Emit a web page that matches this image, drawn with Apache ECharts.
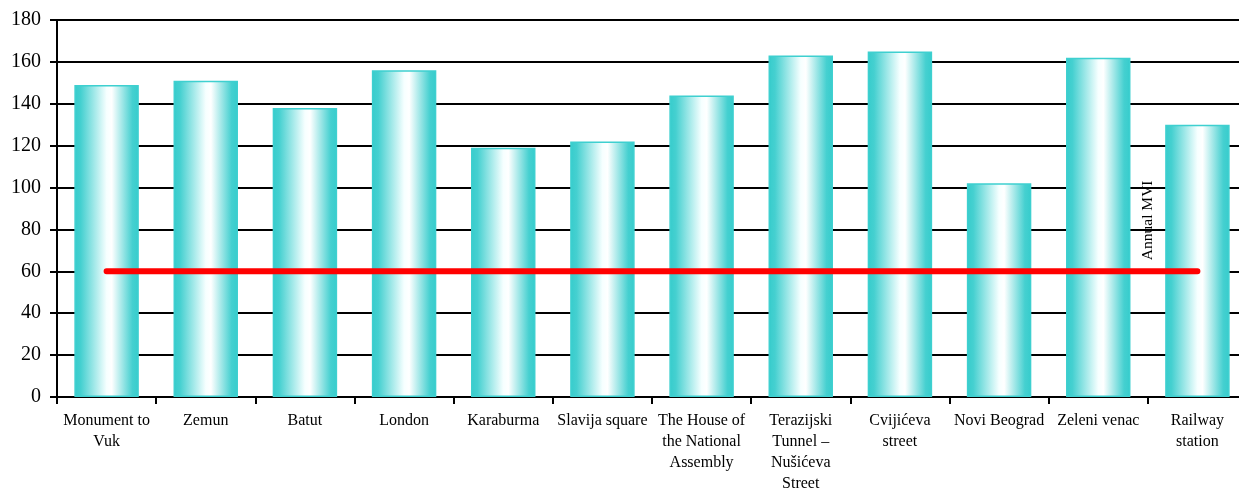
<!DOCTYPE html>
<html><head><meta charset="utf-8">
<script src="https://cdn.jsdelivr.net/npm/echarts@6/dist/echarts.min.js"></script>
<style>html,body{margin:0;padding:0;background:#fff}#c{width:1239px;height:490px}</style>
</head><body><div id="c"></div>
<script>
const categories = ["Monument to\nVuk","Zemun","Batut","London","Karaburma","Slavija square","The House of\nthe National\nAssembly","Terazijski\nTunnel –\nNušićeva\nStreet","Cvijićeva\nstreet","Novi Beograd","Zeleni venac","Railway\nstation"];
const values = [149,151,138,156,119,122,144,163,165,102,162,130];
const limitValues = [60,60,60,60,60,60,60,60,60,60,60,60];
const limitName = "Annual MVI";
const yTicks = [0,20,40,60,80,100,120,140,160,180];

const chart = echarts.init(document.getElementById('c'));
const font = "'Liberation Serif', 'DejaVu Serif', serif";
chart.setOption({
  animation:false,
  grid:{left:57,right:-8,top:20,bottom:93,containLabel:false,outerBoundsMode:'none'},
  xAxis:{type:'category',data:categories,
    axisLine:{lineStyle:{color:'#000',width:2}},
    axisTick:{show:true,length:7,lineStyle:{color:'#000',width:2},alignWithLabel:false},
    axisLabel:{interval:0,fontFamily:font,fontSize:16,color:'#000',lineHeight:21,margin:13}},
  yAxis:{type:'value',min:yTicks[0],max:yTicks[yTicks.length-1],interval:20,
    axisLine:{show:true,lineStyle:{color:'#000',width:2}},
    axisTick:{show:true,length:7,lineStyle:{color:'#000',width:2}},
    axisLabel:{fontFamily:font,fontSize:20,color:'#000',margin:16},
    splitLine:{lineStyle:{color:'#000',width:2}}},
  series:[
    {type:'bar',data:values,barWidth:'65%',
      itemStyle:{borderColor:'#3ED0D0',borderWidth:1.5,
        color:new echarts.graphic.LinearGradient(0,0,1,0,[
          {offset:0,color:'#36CCCC'},{offset:0.1,color:'#45D0D0'},{offset:0.5,color:'#F6FFFF'},{offset:0.58,color:'#FFFFFF'},{offset:0.9,color:'#45D0D0'},{offset:1,color:'#36CCCC'}])}},
    {type:'line',data:limitValues.map((v,i)=> i===limitValues.length-1 ? {value:v,label:{show:true,formatter:limitName,rotate:90,position:'inside',offset:[51,-49],fontFamily:font,fontSize:15.5,color:'#000'}} : v),
      symbol:'circle',symbolSize:1,showSymbol:true,itemStyle:{color:'#FF0000'},lineStyle:{color:'#FF0000',width:6,cap:'round'},z:5}
  ]
});
</script></body></html>
